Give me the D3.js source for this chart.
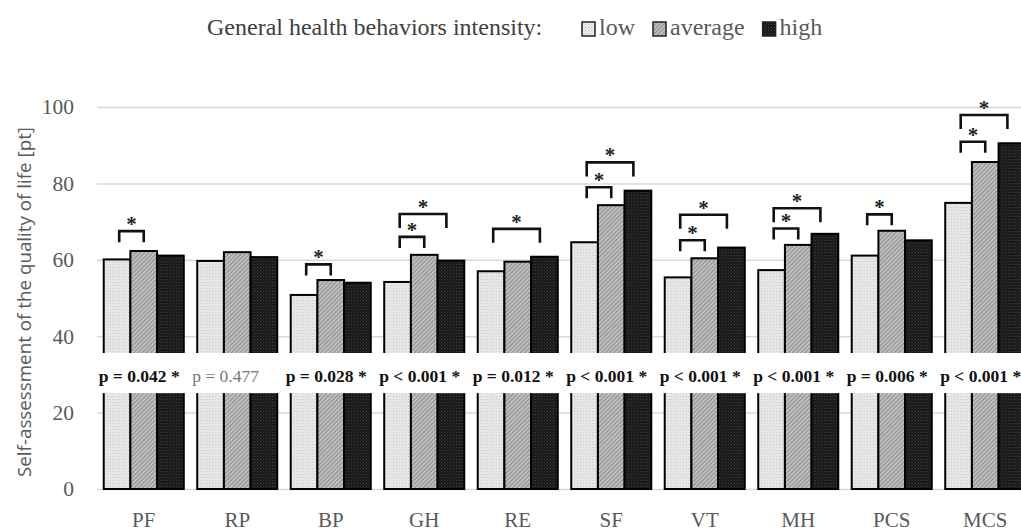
<!DOCTYPE html>
<html>
<head>
<meta charset="utf-8">
<script src="https://cdn.jsdelivr.net/npm/d3@7"></script>
<style>
  html, body { margin: 0; padding: 0; background: #fff; }
  svg { display: block; }
</style>
</head>
<body>
<svg id="chart" width="1021" height="531"></svg>
<script>
// ---------------- DATA ----------------
const categories = ["PF", "RP", "BP", "GH", "RE", "SF", "VT", "MH", "PCS", "MCS"];
const seriesNames = ["low", "average", "high"];
const lowValues     = [60.1, 59.7, 50.8, 54.2, 57.0, 64.6, 55.4, 57.3, 61.1, 74.9];
const averageValues = [62.3, 62.0, 54.7, 61.3, 59.5, 74.3, 60.4, 63.9, 67.6, 85.6];
const highValues    = [61.1, 60.7, 54.0, 59.8, 60.8, 78.1, 63.2, 66.8, 65.1, 90.5];
const pLabels = ["p = 0.042 *", "p = 0.477", "p = 0.028 *", "p < 0.001 *", "p = 0.012 *",
                 "p < 0.001 *", "p < 0.001 *", "p < 0.001 *", "p = 0.006 *", "p < 0.001 *"];
const yTicks = [0, 20, 40, 60, 80, 100];
// significance brackets: category, compared series, bracket level (pt)
const bracketCats   = ["PF", "BP", "GH", "GH", "RE", "SF", "SF", "VT", "VT", "MH", "MH", "PCS", "MCS", "MCS"];
const bracketTo     = ["average", "average", "average", "high", "high", "average", "high", "average", "high", "average", "high", "average", "average", "high"];
const bracketLevels = [67.5, 58.8, 66.0, 72.0, 68.1, 79.0, 85.5, 65.1, 71.8, 68.2, 73.5, 71.9, 90.9, 97.9];
const legendTitle = "General health behaviors intensity:";
const yTitle = "Self-assessment of the quality of life [pt]";
const bandRange = [25.1, 35.6]; // value range hidden by the p-value band

// ---------------- SETUP ----------------
const svg = d3.select("#chart");
const W = 1021, H = 531;
const serif = "'Liberation Serif', 'Times New Roman', serif";

const defs = svg.append("defs");
// low: light dotted
const pLow = defs.append("pattern").attr("id", "pat-low").attr("patternUnits", "userSpaceOnUse")
  .attr("width", 3).attr("height", 3);
pLow.append("rect").attr("width", 3).attr("height", 3).attr("fill", "#ececec");
pLow.append("rect").attr("x", 0).attr("y", 0).attr("width", 1).attr("height", 1).attr("fill", "#bdbdbd");
pLow.append("rect").attr("x", 1.5).attr("y", 1.5).attr("width", 1).attr("height", 1).attr("fill", "#cfcfcf");
// average: diagonal hatch
const pAvg = defs.append("pattern").attr("id", "pat-avg").attr("patternUnits", "userSpaceOnUse")
  .attr("width", 3).attr("height", 3).attr("patternTransform", "rotate(45)");
pAvg.append("rect").attr("width", 3).attr("height", 3).attr("fill", "#c4c4c4");
pAvg.append("rect").attr("width", 1.2).attr("height", 3).attr("fill", "#8e8e8e");
// high: dark dotted
const pHigh = defs.append("pattern").attr("id", "pat-high").attr("patternUnits", "userSpaceOnUse")
  .attr("width", 3).attr("height", 3);
pHigh.append("rect").attr("width", 3).attr("height", 3).attr("fill", "#161616");
pHigh.append("rect").attr("x", 0).attr("y", 0).attr("width", 1).attr("height", 1).attr("fill", "#4a4a4a");
pHigh.append("rect").attr("x", 1.5).attr("y", 1.5).attr("width", 1).attr("height", 1).attr("fill", "#3a3a3a");

const fills = { low: "url(#pat-low)", average: "url(#pat-avg)", high: "url(#pat-high)" };

// scales
const x0 = d3.scaleBand().domain(categories).range([97, 1032]).paddingInner(0.144).paddingOuter(0.072);
const x1 = d3.scaleBand().domain(seriesNames).range([0, x0.bandwidth()]).padding(0);
const y = d3.scaleLinear().domain([0, 100]).range([489, 107]);

const valuesBySeries = { low: lowValues, average: averageValues, high: highValues };
const rows = categories.map((c, i) => ({ cat: c, i, vals: seriesNames.map(s => ({ s, v: valuesBySeries[s][i] })) }));

// gridlines
const yAxis = d3.axisLeft(y).tickValues(yTicks).tickSize(-(W - 97)).tickPadding(23).tickFormat(d3.format("d"));
const gAxis = svg.append("g").attr("transform", "translate(97,0)").call(yAxis);
gAxis.select(".domain").remove();
gAxis.selectAll(".tick line").attr("stroke", "#d9d9d9").attr("stroke-width", 1.5);
gAxis.selectAll(".tick text").attr("font-family", serif).attr("font-size", 21.5).attr("fill", "#595959");

// bars
const groups = svg.append("g").selectAll("g").data(rows).join("g")
  .attr("transform", d => `translate(${x0(d.cat)},0)`);
groups.selectAll("rect").data(d => d.vals).join("rect")
  .attr("x", d => x1(d.s))
  .attr("y", d => y(d.v))
  .attr("width", x1.bandwidth())
  .attr("height", d => y(0) - y(d.v))
  .attr("fill", d => fills[d.s])
  .attr("stroke", "#000")
  .attr("stroke-width", 2);

// white band with p-values
svg.append("rect").attr("x", 92).attr("y", y(bandRange[1])).attr("width", W - 92)
  .attr("height", y(bandRange[0]) - y(bandRange[1])).attr("fill", "#fff");
const bandMid = (y(bandRange[0]) + y(bandRange[1])) / 2;
svg.append("g").selectAll("text").data(rows).join("text")
  .attr("x", d => x0(d.cat) - 5)
  .attr("y", bandMid + 9)
  .attr("font-family", serif)
  .attr("font-size", 17.5)
  .attr("font-weight", d => pLabels[d.i].endsWith("*") ? "bold" : "normal")
  .attr("fill", d => pLabels[d.i].endsWith("*") ? "#111" : "#777")
  .text(d => pLabels[d.i]);

// brackets
const brackets = bracketCats.map((c, k) => ({ cat: c, to: bracketTo[k], level: bracketLevels[k] }));
const bw = x1.bandwidth();
const bG = svg.append("g");
brackets.forEach(b => {
  const gx = x0(b.cat);
  const xl = gx + x1("low") + bw * 0.58;
  const xr = b.to === "high" ? gx + x1("high") + bw * 0.33 : gx + x1("average") + bw * 0.5;
  const yt = y(b.level);
  const tip = b.to === "high" ? 14 : 11;
  bG.append("path")
    .attr("d", `M${xl},${yt + tip} V${yt} H${xr} V${yt + tip}`)
    .attr("fill", "none").attr("stroke", "#111").attr("stroke-width", 2.6)
    .attr("stroke-linejoin", "miter").attr("stroke-linecap", "butt");
  bG.append("text")
    .attr("x", (xl + xr) / 2).attr("y", yt)
    .attr("text-anchor", "middle")
    .attr("font-family", serif).attr("font-size", 21).attr("font-weight", "bold")
    .attr("fill", "#222")
    .text("*");
});

// x labels
svg.append("g").selectAll("text").data(categories).join("text")
  .attr("x", d => x0(d) + x0.bandwidth() / 2)
  .attr("y", 527)
  .attr("text-anchor", "middle")
  .attr("font-family", serif).attr("font-size", 21).attr("fill", "#595959")
  .text(d => d);

// y title
svg.append("text")
  .attr("transform", `translate(31,${(y(0) + y(100)) / 2 + 4}) rotate(-90)`)
  .attr("text-anchor", "middle")
  .attr("font-family", "'Open Sans', sans-serif").attr("font-size", 18.8).attr("fill", "#595959")
  .text(yTitle);

// legend
const leg = svg.append("g");
leg.append("text").attr("x", 207).attr("y", 35)
  .attr("font-family", serif).attr("font-size", 24).attr("fill", "#404040").text(legendTitle);
let lx = 582;
seriesNames.forEach(s => {
  leg.append("rect").attr("x", lx).attr("y", 22).attr("width", 13).attr("height", 14)
    .attr("fill", fills[s]).attr("stroke", "#222").attr("stroke-width", 1.5);
  const t = leg.append("text").attr("x", lx + 17).attr("y", 35)
    .attr("font-family", serif).attr("font-size", 24).attr("fill", "#595959").text(s);
  lx += 17 + t.node().getComputedTextLength() + 18;
});
</script>
</body>
</html>
